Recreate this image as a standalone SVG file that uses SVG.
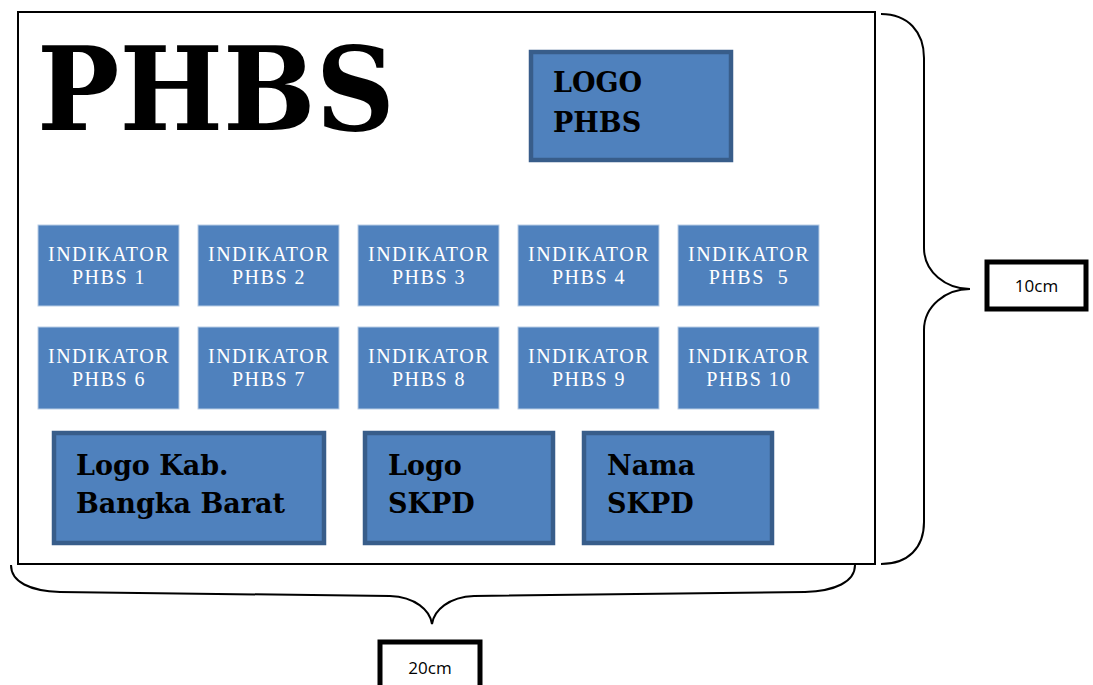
<svg xmlns="http://www.w3.org/2000/svg" width="1093" height="685" viewBox="0 0 1093 685">
<style>
.ind rect{fill:#4f81bd;stroke:#b9cde5;stroke-width:1}
.ind text{fill:#ffffff;font-family:"Liberation Serif","Times New Roman",serif;font-size:20px;letter-spacing:1.5px;text-anchor:middle}
.big rect{fill:#4f81bd;stroke:#385d8a;stroke-width:4.5}
.big text{fill:#000000;font-family:"DejaVu Serif",serif;font-weight:bold;font-size:27px}
.brace{fill:none;stroke:#000;stroke-width:2}
.dim rect{fill:#fff;stroke:#000;stroke-width:5}
.dim text{font-family:"Open Sans","Liberation Sans",sans-serif;font-size:17px;text-anchor:middle}
</style>
<rect width="1093" height="685" fill="#fff"/>
<g id="frame"><rect x="18" y="12" width="857" height="552" fill="#fff" stroke="#000" stroke-width="2"/></g>
<g id="title"><text x="37" y="130" font-family="DejaVu Serif,serif" font-weight="bold" font-size="116" textLength="358" lengthAdjust="spacingAndGlyphs">PHBS</text></g>
<g id="logo-phbs" class="big"><rect x="531" y="52" width="200" height="108"/><text x="553" y="92">LOGO</text><text x="553" y="132">PHBS</text></g>
<g id="ind1" class="ind"><rect x="38" y="225" width="141" height="81"/><text x="109" y="261">INDIKATOR</text><text x="109" y="284">PHBS 1</text></g>
<g id="ind2" class="ind"><rect x="198" y="225" width="141" height="81"/><text x="269" y="261">INDIKATOR</text><text x="269" y="284">PHBS 2</text></g>
<g id="ind3" class="ind"><rect x="358" y="225" width="141" height="81"/><text x="429" y="261">INDIKATOR</text><text x="429" y="284">PHBS 3</text></g>
<g id="ind4" class="ind"><rect x="518" y="225" width="141" height="81"/><text x="589" y="261">INDIKATOR</text><text x="589" y="284">PHBS 4</text></g>
<g id="ind5" class="ind"><rect x="678" y="225" width="141" height="81"/><text x="749" y="261">INDIKATOR</text><text x="749" y="284" xml:space="preserve">PHBS  5</text></g>
<g id="ind6" class="ind"><rect x="38" y="327" width="141" height="82"/><text x="109" y="363">INDIKATOR</text><text x="109" y="386">PHBS 6</text></g>
<g id="ind7" class="ind"><rect x="198" y="327" width="141" height="82"/><text x="269" y="363">INDIKATOR</text><text x="269" y="386">PHBS 7</text></g>
<g id="ind8" class="ind"><rect x="358" y="327" width="141" height="82"/><text x="429" y="363">INDIKATOR</text><text x="429" y="386">PHBS 8</text></g>
<g id="ind9" class="ind"><rect x="518" y="327" width="141" height="82"/><text x="589" y="363">INDIKATOR</text><text x="589" y="386">PHBS 9</text></g>
<g id="ind10" class="ind"><rect x="678" y="327" width="141" height="82"/><text x="749" y="363">INDIKATOR</text><text x="749" y="386">PHBS 10</text></g>
<g id="logo-kab" class="big"><rect x="54" y="433" width="270" height="110"/><text x="76" y="475">Logo Kab.</text><text x="76" y="513">Bangka Barat</text></g>
<g id="logo-skpd" class="big"><rect x="365" y="433" width="188" height="110"/><text x="388" y="475">Logo</text><text x="388" y="513">SKPD</text></g>
<g id="nama-skpd" class="big"><rect x="584" y="433" width="188" height="110"/><text x="607" y="475">Nama</text><text x="607" y="513">SKPD</text></g>
<g id="connectors">
<path class="brace" d="M881,14 C908,14 924,32 924,58 L924,248 C924,272 946,289 970,289 C946,289 924,306 924,330 L924,522 C924,548 908,564 881,564"/>
<path class="brace" d="M11,565 C11,582 30,591 60,592 L390,596 C415,597 430,610 432,624 C434,610 449,597 474,596 L805,592 C835,591 855,582 855,565"/>
</g>
<g id="dim10" class="dim"><rect x="987" y="262" width="99" height="47"/><text x="1036.5" y="292">10cm</text></g>
<g id="dim20" class="dim"><rect x="380" y="642" width="100" height="50"/><text x="430" y="674">20cm</text></g>
</svg>
